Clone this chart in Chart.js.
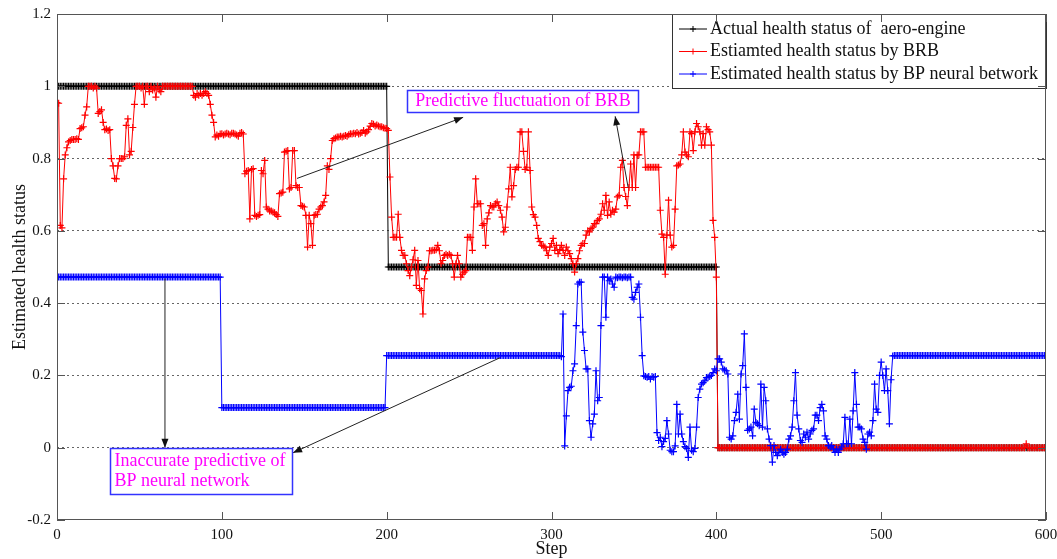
<!DOCTYPE html>
<html>
<head>
<meta charset="utf-8">
<title>Estimated health status</title>
<script src="https://cdn.jsdelivr.net/npm/chart.js@4.4.0/dist/chart.umd.min.js"></script>
<style>
  html, body { margin: 0; padding: 0; background: #fff; }
  #wrap { width: 1057px; height: 559px; }
</style>
</head>
<body>
<div id="wrap"><canvas id="healthChart" width="1057" height="559"></canvas></div>
<script>
// Axis ticks
const xTicks = [0, 100, 200, 300, 400, 500, 600];
const yTicks = [-0.2, 0, 0.2, 0.4, 0.6, 0.8, 1, 1.2];

const seriesNames = [
    'Actual health status of  aero-engine',
    'Estiamted health status by BRB',
    'Estimated health status by BP neural betwork'
];

// Actual status: [fromStep, toStep, value]
const actualLevels = [[0, 200, 1], [201, 400, 0.5], [401, 600, 0]];

// BRB estimate, steps 0..401
const brbStart = 0;
const brbValues = [
    0.955, 0.953, 0.615, 0.608, 0.744, 0.81, 0.83, 0.846, 0.85, 0.853,
    0.853, 0.853, 0.855, 0.853, 0.883, 0.885, 0.888, 0.92, 0.943, 1.0,
    1.0, 1.0, 0.995, 1.0, 0.995, 0.925, 0.93, 0.935, 0.9, 0.88,
    0.882, 0.878, 0.88, 0.80, 0.78, 0.745, 0.744, 0.78, 0.80, 0.80,
    0.80, 0.805, 0.892, 0.91, 0.81, 0.82, 0.886, 0.95, 1.0, 1.0,
    1.0, 0.995, 1.0, 0.95, 1.0, 1.0, 0.985, 1.0, 0.99, 0.995,
    0.97, 1.0, 0.99, 0.985, 1.0, 1.0, 1.0, 1.0, 1.0, 1.0,
    1.0, 1.0, 1.0, 1.0, 1.0, 1.0, 1.0, 1.0, 1.0, 1.0,
    1.0, 1.0, 1.0, 0.975, 0.97, 0.98, 0.975, 0.98, 0.975, 0.98,
    0.985, 0.98, 0.975, 0.95, 0.92, 0.9, 0.86, 0.865, 0.862, 0.868,
    0.869, 0.865, 0.868, 0.87, 0.868, 0.866, 0.87, 0.87, 0.868, 0.865,
    0.862, 0.87, 0.872, 0.868, 0.758, 0.765, 0.767, 0.633, 0.77, 0.772,
    0.643, 0.64, 0.643, 0.645, 0.767, 0.758, 0.795, 0.666, 0.66, 0.655,
    0.655, 0.652, 0.65, 0.645, 0.64, 0.703, 0.705, 0.707, 0.818, 0.82,
    0.822, 0.716, 0.72, 0.822, 0.822, 0.725, 0.72, 0.72, 0.67, 0.668,
    0.666, 0.643, 0.555, 0.643, 0.62, 0.56, 0.643, 0.645, 0.646, 0.66,
    0.666, 0.67, 0.68, 0.698, 0.78, 0.77, 0.8, 0.85, 0.855, 0.857,
    0.86, 0.86, 0.862, 0.86, 0.862, 0.864, 0.862, 0.866, 0.869, 0.868,
    0.87, 0.869, 0.872, 0.868, 0.87, 0.872, 0.878, 0.87, 0.874, 0.88,
    0.89, 0.897, 0.895, 0.89, 0.893, 0.89, 0.888, 0.888, 0.885, 0.884,
    0.883, 0.878, 0.749, 0.638, 0.582, 0.582, 0.582, 0.646, 0.582, 0.546,
    0.532, 0.532, 0.509, 0.49, 0.476, 0.5, 0.52, 0.546, 0.449, 0.518,
    0.44, 0.435, 0.37, 0.467, 0.49, 0.5, 0.545, 0.545, 0.546, 0.546,
    0.548, 0.56, 0.545, 0.509, 0.518, 0.532, 0.535, 0.532, 0.535, 0.532,
    0.509, 0.472, 0.509, 0.532, 0.509, 0.472, 0.48, 0.486, 0.49, 0.582,
    0.582, 0.582, 0.546, 0.666, 0.744, 0.675, 0.675, 0.675, 0.615, 0.62,
    0.56, 0.633, 0.65, 0.67, 0.666, 0.666, 0.675, 0.68, 0.67, 0.657,
    0.638, 0.597, 0.61, 0.666, 0.716, 0.776, 0.694, 0.725, 0.77, 0.776,
    0.776, 0.874, 0.874, 0.82, 0.77, 0.776, 0.874, 0.767, 0.666, 0.645,
    0.638, 0.615, 0.579, 0.57, 0.56, 0.558, 0.555, 0.545, 0.532, 0.555,
    0.565, 0.579, 0.546, 0.56, 0.537, 0.548, 0.56, 0.546, 0.532, 0.555,
    0.545, 0.537, 0.523, 0.509, 0.486, 0.509, 0.523, 0.545, 0.56, 0.565,
    0.565, 0.588, 0.6, 0.597, 0.606, 0.61, 0.62, 0.62, 0.629, 0.633,
    0.646, 0.675, 0.657, 0.698, 0.643, 0.68, 0.646, 0.657, 0.652, 0.66,
    0.694, 0.698, 0.776, 0.795, 0.72, 0.695, 0.67, 0.72, 0.785, 0.72,
    0.81, 0.72, 0.81, 0.81, 0.874, 0.874, 0.874, 0.776, 0.776, 0.776,
    0.776, 0.776, 0.776, 0.776, 0.776, 0.776, 0.657, 0.591, 0.582, 0.48,
    0.588, 0.685, 0.588, 0.555, 0.56, 0.66, 0.78, 0.782, 0.785, 0.81,
    0.874, 0.818, 0.81, 0.805, 0.874, 0.869, 0.822, 0.874, 0.897, 0.888,
    0.874, 0.837, 0.869, 0.837, 0.888, 0.88, 0.874, 0.837, 0.629, 0.582,
    0.472, 0.0
];
const brbLevels = [[402, 587, 0], [589, 600, 0]];
const brbExtra = [[588, 0.011]];

// BP neural network estimate
const bpLevels = [[0, 99, 0.472], [100, 199, 0.111], [200, 305, 0.255], [508, 600, 0.255]];
const bpStart = 306;
const bpValues = [
    0.252, 0.37, 0.005, 0.088, 0.158, 0.167, 0.17, 0.213, 0.232, 0.338,
    0.453, 0.458, 0.458, 0.32, 0.269, 0.218, 0.218, 0.075, 0.029, 0.066,
    0.093, 0.213, 0.13, 0.139, 0.338, 0.472, 0.472, 0.361, 0.472, 0.462,
    0.467, 0.453, 0.444, 0.472, 0.47, 0.472, 0.472, 0.47, 0.472, 0.472,
    0.47, 0.472, 0.472, 0.416, 0.411, 0.43, 0.444, 0.453, 0.361, 0.255,
    0.199, 0.197, 0.195, 0.197, 0.19, 0.197, 0.195, 0.197, 0.042, 0.02,
    0.029, 0.003, 0.017, 0.026, 0.075, 0.038, -0.007, -0.011, -0.011, 0.005,
    0.12, 0.038, 0.093, 0.038, 0.017, 0.003, -0.002, -0.027, 0.057, -0.007,
    -0.011, -0.002, 0.057, 0.139, 0.162, 0.176, 0.18, 0.185, 0.194, 0.195,
    0.197, 0.2, 0.208, 0.218, 0.213, 0.246, 0.246, 0.237, 0.218, 0.215,
    0.213, 0.204, 0.029, 0.024, 0.033, 0.075, 0.098, 0.148, 0.079, 0.204,
    0.227, 0.315, 0.167, 0.048, 0.052, 0.057, 0.033, 0.107, 0.07, 0.066,
    0.061, 0.176, 0.057, 0.167, 0.13, 0.052, 0.024, 0.006, -0.04, 0.006,
    -0.013, -0.022, -0.013, -0.004, -0.013, -0.018, -0.013, -0.004, 0.024, 0.033,
    0.057, 0.13, 0.208, 0.09, 0.052, 0.02, 0.015, 0.038, 0.029, 0.043,
    0.024, 0.038, 0.048, 0.052, 0.09, 0.09, 0.075, 0.111, 0.12, 0.102,
    0.033, 0.024, 0.006, 0.002, 0.006, -0.004, -0.013, -0.004, -0.013, -0.004,
    0.002, 0.011, 0.084, 0.011, 0.011, 0.079, 0.011, 0.102, 0.208, 0.12,
    0.057, 0.057, 0.052, 0.024, 0.015, -0.004, 0.038, 0.043, 0.033, 0.075,
    0.176, 0.107, 0.098, 0.2, 0.237, 0.2, 0.158, 0.218, 0.158, 0.066,
    0.188, 0.254
];

// Text boxes and arrows, placed in data units (step, status)
const notes = [
    { lines: ['Predictive fluctuation of BRB'], box: [212.4, 0.989, 352.5, 0.928], align: 'center' },
    { lines: ['Inaccurate predictive of', 'BP neural network'], box: [32.2, 0.0, 142.6, -0.127], align: 'left' }
];
const arrows = [
    [145.6, 0.745, 246.4, 0.914],
    [346.5, 0.72, 338.6, 0.917],
    [65.5, 0.468, 65.5, 0.0],
    [268.8, 0.249, 143.2, -0.014]
];

const serif = '"Liberation Serif", "Times New Roman", serif';
const colors = ['#000000', '#ff0000', '#0000ff'];

// expand constant runs to one point per step
function levelPoints(levels) {
    const pts = [];
    levels.forEach(([from, to, v]) => {
        for (let s = from; s <= to; s++) pts.push({ x: s, y: v });
    });
    return pts;
}

function runPoints(start, values) {
    return values.map((v, i) => ({ x: start + i, y: v }));
}

function bySteps(pts) {
    return pts.sort((a, b) => a.x - b.x);
}

const actualData = levelPoints(actualLevels);
const brbData = bySteps(runPoints(brbStart, brbValues)
    .concat(levelPoints(brbLevels))
    .concat(brbExtra.map(([s, v]) => ({ x: s, y: v }))));
const bpData = bySteps(levelPoints(bpLevels).concat(runPoints(bpStart, bpValues)));

function drawArrow(ctx, x1, y1, x2, y2) {
    ctx.beginPath();
    ctx.moveTo(x1, y1);
    ctx.lineTo(x2, y2);
    ctx.stroke();
    const ang = Math.atan2(y2 - y1, x2 - x1);
    const len = 9, half = 3.5;
    const bx = x2 - len * Math.cos(ang), by = y2 - len * Math.sin(ang);
    ctx.beginPath();
    ctx.moveTo(x2, y2);
    ctx.lineTo(bx + half * Math.sin(ang), by - half * Math.cos(ang));
    ctx.lineTo(bx - half * Math.sin(ang), by + half * Math.cos(ang));
    ctx.closePath();
    ctx.fill();
}

// frame, inward ticks, axis titles, legend and notes
const decorations = {
    id: 'decorations',
    afterDatasetsDraw(chart) {
        const { ctx, chartArea: a, scales: { x, y } } = chart;
        ctx.save();

        // annotation arrows
        ctx.strokeStyle = '#222';
        ctx.fillStyle = '#111';
        ctx.lineWidth = 1;
        arrows.forEach(([s1, v1, s2, v2]) => {
            drawArrow(ctx, x.getPixelForValue(s1), y.getPixelForValue(v1),
                x.getPixelForValue(s2), y.getPixelForValue(v2));
        });

        // annotation boxes
        notes.forEach(n => {
            const l = Math.round(x.getPixelForValue(n.box[0])) + 0.5;
            const t = Math.round(y.getPixelForValue(n.box[1])) + 0.5;
            const r = Math.round(x.getPixelForValue(n.box[2])) + 0.5;
            const b = Math.round(y.getPixelForValue(n.box[3])) + 0.5;
            ctx.fillStyle = '#fff';
            ctx.fillRect(l, t, r - l, b - t);
            ctx.strokeStyle = '#3333ff';
            ctx.lineWidth = 1.5;
            ctx.strokeRect(l, t, r - l, b - t);
            ctx.fillStyle = '#ff00ff';
            ctx.font = '18px ' + serif;
            ctx.textBaseline = 'middle';
            const lh = 20;
            const y0 = (t + b) / 2 - (n.lines.length - 1) * lh / 2;
            n.lines.forEach((line, i) => {
                if (n.align === 'center') {
                    ctx.textAlign = 'center';
                    ctx.fillText(line, (l + r) / 2, y0 + i * lh);
                } else {
                    ctx.textAlign = 'left';
                    ctx.fillText(line, l + 4, y0 + i * lh);
                }
            });
        });

        // legend
        const lgL = a.right - 374, lgT = a.top, lgR = a.right, lgB = a.top + 74;
        ctx.fillStyle = '#fff';
        ctx.fillRect(lgL, lgT, lgR - lgL, lgB - lgT);
        ctx.strokeStyle = '#333';
        ctx.lineWidth = 1;
        ctx.strokeRect(lgL + 0.5, lgT + 0.5, lgR - lgL, lgB - lgT);
        ctx.font = '18px ' + serif;
        ctx.textAlign = 'left';
        ctx.textBaseline = 'middle';
        seriesNames.forEach((name, i) => {
            const ry = lgT + 15 + i * 22.5;
            const cx = lgL + 21;
            ctx.strokeStyle = colors[i];
            ctx.lineWidth = 1;
            ctx.beginPath();
            ctx.moveTo(lgL + 7, ry);
            ctx.lineTo(lgL + 35, ry);
            ctx.moveTo(cx - 3, ry);
            ctx.lineTo(cx + 3, ry);
            ctx.moveTo(cx, ry - 3);
            ctx.lineTo(cx, ry + 3);
            ctx.stroke();
            ctx.fillStyle = '#111';
            ctx.fillText(name, lgL + 38, ry);
        });

        // axes box and inward ticks
        ctx.strokeStyle = '#555';
        ctx.lineWidth = 1;
        ctx.strokeRect(a.left + 0.5, a.top + 0.5, a.right - a.left - 1, a.bottom - a.top - 1);
        ctx.beginPath();
        xTicks.forEach(v => {
            const px = Math.round(x.getPixelForValue(v)) + 0.5;
            ctx.moveTo(px, a.bottom); ctx.lineTo(px, a.bottom - 8);
            ctx.moveTo(px, a.top); ctx.lineTo(px, a.top + 8);
        });
        yTicks.forEach(v => {
            const py = Math.round(y.getPixelForValue(v)) + 0.5;
            ctx.moveTo(a.left, py); ctx.lineTo(a.left + 8, py);
            ctx.moveTo(a.right, py); ctx.lineTo(a.right - 8, py);
        });
        ctx.stroke();

        // axis titles
        ctx.fillStyle = '#111';
        ctx.font = '18px ' + serif;
        ctx.textAlign = 'center';
        ctx.textBaseline = 'middle';
        ctx.fillText('Step', (a.left + a.right) / 2, 549);
        ctx.translate(20, (a.top + a.bottom) / 2);
        ctx.rotate(-Math.PI / 2);
        ctx.fillText('Estimated health status', 0, 0);
        ctx.restore();
    }
};

function makeSet(i, data, order) {
    return {
        label: seriesNames[i],
        data: data,
        borderColor: colors[i],
        backgroundColor: colors[i],
        borderWidth: 1,
        pointStyle: 'cross',
        pointRadius: 3.5,
        pointBorderColor: colors[i],
        pointBorderWidth: 1.2,
        pointHoverRadius: 3.5,
        tension: 0,
        fill: false,
        order: order
    };
}

const healthChart = new Chart(document.getElementById('healthChart'), {
    type: 'line',
    data: {
        datasets: [
            makeSet(0, actualData, 3),
            makeSet(1, brbData, 2),
            makeSet(2, bpData, 1)
        ]
    },
    options: {
        responsive: false,
        animation: false,
        parsing: true,
        layout: { padding: { left: 0, right: 11, top: 14, bottom: 0 } },
        plugins: {
            legend: { display: false },
            tooltip: { enabled: false }
        },
        scales: {
            x: {
                type: 'linear',
                min: 0,
                max: 600,
                afterBuildTicks: scale => { scale.ticks = xTicks.map(v => ({ value: v })); },
                afterFit: scale => {
                    scale.height = 39;
                    scale.paddingLeft = 0;
                    scale.paddingRight = 0;
                },
                grid: { display: false, drawTicks: false },
                border: { display: false },
                ticks: {
                    color: '#111',
                    padding: 6,
                    maxRotation: 0,
                    autoSkip: false,
                    font: { family: serif, size: 15 },
                    callback: v => String(v)
                }
            },
            y: {
                type: 'linear',
                min: -0.2,
                max: 1.2,
                afterBuildTicks: scale => { scale.ticks = yTicks.map(v => ({ value: v })); },
                afterFit: scale => {
                    scale.width = 57;
                    scale.paddingTop = 0;
                    scale.paddingBottom = 0;
                },
                grid: {
                    drawTicks: false,
                    lineWidth: 1,
                    color: c => (c.tick && (c.tick.value === -0.2 || c.tick.value === 1.2)) ? 'rgba(0,0,0,0)' : '#666'
                },
                border: { display: false, dash: [2, 3] },
                ticks: {
                    color: '#111',
                    padding: 6,
                    autoSkip: false,
                    font: { family: serif, size: 15 },
                    callback: v => String(v)
                }
            }
        }
    },
    plugins: [decorations]
});
</script>
</body>
</html>
